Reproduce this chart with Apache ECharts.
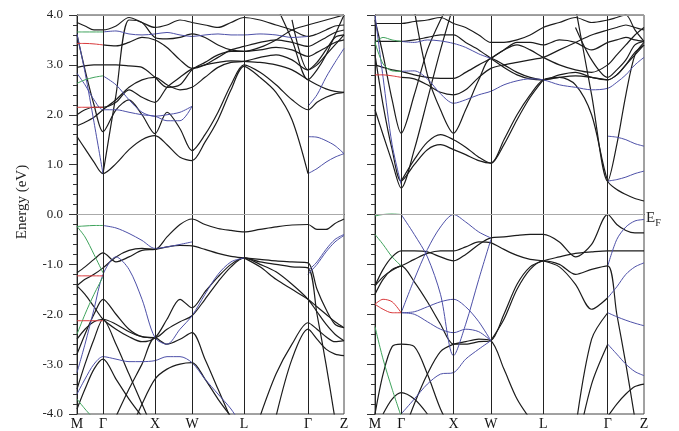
<!DOCTYPE html>
<html>
<head>
<meta charset="utf-8">
<script src="https://cdn.jsdelivr.net/npm/echarts@6/dist/echarts.min.js"></script>
<style>html,body{margin:0;padding:0;background:#fff}#c{width:679px;height:431px}</style>
</head>
<body>
<div id="c"></div>
<script>
// ---------- data ----------
const K = [0, 8, 17, 26, 39, 52, 65, 78, 90, 103, 115, 128, 141, 154, 167, 183, 199, 215, 231, 240, 249, 258, 267];
const KPOINTS = [0, 26, 78, 115, 167, 231, 267];
const KLABELS = ['M', 'Γ', 'X', 'W', 'L', 'Γ', 'Z'];
const Y_MIN = -4, Y_MAX = 4, Y_STEP = 1;

// band(start, values): values placed from k-index "start", other k-points empty
function band(start, vals) {
  const out = new Array(K.length).fill(null);
  vals.forEach((v, i) => { if (start + i < K.length) out[start + i] = v; });
  return out;
}

const leftBlack = [
  band(0, [1.56,1.32,1.05,0.82,1.02,1.3,1.5,1.58,1.4,1.15,1.08,1.45,1.9,2.5,2.97,2.75,2.45,1.9,0.82]),
  band(3, [0.82,2.4,3.9,3.85,3.55,3.52,3.55,3.62,3.55,3.4,3.3,3.27,3.35,3.5,3.7,3.8,3.85,3.9,3.95,4.0]),
  band(0, [3.6,2.9,2.2,1.66,2.1,2.3,2.0,1.62,2.05,1.72,1.28,1.6,2.05,2.6,3.0,2.85,2.6,2.3,2.1,2.25,2.35,2.42,2.45]),
  band(0, [2.0,2.1,2.15,2.15,2.25,2.5,2.35,2.25,2.55,2.75,2.92,3.0,3.05,3.08,3.07,3.05,3.0,2.9,2.7,2.6,2.52,2.47,2.45]),
  band(0, [1.78,1.85,1.95,2.1,2.3,2.55,2.7,2.75,2.6,2.5,2.55,2.75,2.95,3.05,3.07,3.15,3.2,3.1,2.9,3.0,3.2,3.4,3.6]),
  band(0, [2.95,2.98,3.0,3.0,3.0,2.98,2.95,2.75,2.55,2.6,2.9,3.05,3.2,3.27,3.27,3.3,3.35,3.3,3.17,3.25,3.35,3.45,3.5]),
  band(3, [3.4,3.38,3.45,3.55,3.5,3.35,3.1,2.93,3.0,3.15,3.3,3.37,3.45,3.5,3.45,3.37,3.45,3.55,3.65,3.7]),
  band(0, [3.85,3.78,3.7,3.7,3.78,3.95,3.85,3.75,3.8,3.9,3.85,3.8,3.75,3.85,3.95,3.9,3.8,3.7,3.57,3.62,3.7,3.78,3.8]),
  band(16, [4.2,3.5,2.7,2.9,3.2,3.6,4.0]),
  band(17, [3.9,2.9,3.05,3.3,3.55,3.6]),
  band(0, [-1.17,-1.05,-0.9,-0.77,-0.95,-0.85,-0.72,-0.7,-0.65,-0.62,-0.63,-0.7,-0.78,-0.84,-0.87,-0.9,-0.93,-0.95,-0.97,-1.5,-1.9,-2.2,-2.27]),
  band(0, [-1.43,-1.3,-1.2,-1.07,-0.85,-0.72,-0.68,-0.7,-0.45,-0.2,-0.09,-0.2,-0.28,-0.32,-0.35,-0.3,-0.25,-0.21,-0.2,-0.3,-0.3,-0.18,-0.09]),
  band(0, [-1.43,-1.6,-1.85,-2.1,-2.3,-2.45,-2.55,-2.47,-2.1,-1.7,-1.87,-1.55,-1.25,-1.0,-0.87,-1.0,-1.15,-1.4,-1.7,-1.95,-2.2,-2.4,-2.53]),
  band(0, [-2.8,-2.4,-2.0,-1.7,-2.0,-2.3,-2.45,-2.47,-2.3,-2.15,-2.03,-1.7,-1.35,-1.05,-0.87,-0.95,-1.0,-1.05,-1.07,-2.0,-3.0,-4.1]),
  band(0, [-3.9,-3.5,-3.1,-2.9,-3.3,-3.7,-4.05]),
  band(4, [-4.05,-3.5,-3.0,-2.47,-2.6,-2.5,-2.37,-2.9,-3.5,-4.1]),
  band(5, [-4.4,-3.8,-3.3,-3.1,-3.0,-2.97,-3.3,-3.7,-4.05]),
  band(15, [-4.05,-3.2,-2.6,-2.17,-2.3,-2.45,-2.55,-2.53]),
  band(16, [-4.05,-2.9,-2.3,-2.5,-2.7,-2.8,-2.83]),
  band(14, [-0.87,-1.05,-1.3,-1.5,-1.7,-1.85,-2.0,-2.15,-2.27]),
  band(0, [-2.5,-2.3,-2.15,-2.1,-2.2,-2.35,-2.45,-2.47]),
  band(0, [-3.5,-3.0,-2.5,-2.1,-2.6,-3.2,-3.8,-4.4])
];
const leftBlue = [
  band(0, [3.62,2.85,1.85,0.82]),
  band(18, [0.82,0.92,1.05,1.15,1.22]),
  band(18, [1.56,1.55,1.48,1.38,1.22]),
  band(0, [2.83,2.6,2.3,2.1,2.1,2.05,2.0,1.97,1.88,1.88,2.17]),
  band(3, [2.78,2.6,2.3,2.05,1.97,2.0,2.05,2.17]),
  band(3, [3.66,3.68,3.62,3.6,3.62,3.65,3.6,3.57,3.6,3.62,3.6,3.6,3.62,3.6,3.55,3.57]),
  band(18, [2.17,2.4,2.75,3.05,3.33]),
  band(3, [-0.22,-0.27,-0.38,-0.52,-0.68,-0.65,-0.6,-0.55]),
  band(0, [-3.17,-2.6,-1.9,-1.2,-0.85,-1.1,-1.7,-2.47,-2.6,-2.3,-2.03,-1.6,-1.2,-0.95,-0.87]),
  band(0, [-3.6,-3.3,-3.0,-2.85,-2.9,-2.95,-2.95,-2.93,-2.85,-2.85,-2.97,-3.3,-3.6,-3.9,-4.3]),
  band(18, [-1.13,-0.95,-0.7,-0.5,-0.4]),
  band(18, [-1.2,-1.0,-0.75,-0.55,-0.42])
];
const leftGreen = [
  band(0, [3.66,3.66,3.66,3.66]),
  band(0, [2.63,2.7,2.75,2.78]),
  band(0, [-0.24,-0.23,-0.22,-0.22]),
  band(0, [-0.24,-0.45,-0.8,-1.17]),
  band(0, [-2.4,-2.0,-1.6,-1.25]),
  band(0, [-3.7,-3.9,-4.1])
];
const leftRed = [
  band(0, [3.43,3.43,3.42,3.4]),
  band(0, [2.15,2.15,2.15,2.15]),
  band(0, [-1.23,-1.23,-1.23,-1.23]),
  band(0, [-2.13,-2.13,-2.13,-2.13])
];

const rightBlack = [
  band(0, [2.1,1.6,1.05,0.53,1.3,2.3,3.3,4.2]),
  band(0, [3.2,2.2,1.3,0.67,1.0,1.3,1.4,1.3,1.2,1.08,1.03,1.5,2.0,2.4,2.7,2.75,2.6,2.0,0.67,0.5,0.4,0.32,0.27]),
  band(16, [4.15,2.4,0.67,1.4,2.4,3.2,3.45]),
  band(0, [3.9,3.2,2.3,1.63,2.4,3.3,3.9,4.4]),
  band(4, [4.1,2.8,2.1,1.63,2.1,2.7,3.13,3.0,2.85,2.75,2.7,2.8,2.85,2.75,2.7,2.8,3.0,3.2,3.4]),
  band(3, [2.75,2.72,2.6,2.45,2.4,2.5,2.75,2.93,3.0,3.05,3.1,3.15,3.3,3.45,3.6,3.7,3.75,3.8,3.75,3.7]),
  band(0, [3.47,3.47,3.47,3.47,3.5,3.55,3.6,3.6,3.45,3.3,3.13,2.95,2.8,2.72,2.7,2.75,2.78,2.75,2.7,2.8,3.0,3.25,3.4]),
  band(0, [3.83,3.83,3.83,3.83,3.87,3.9,3.95,3.83,3.75,3.6,3.45,3.45,3.5,3.6,3.75,3.85,3.95,3.85,3.9,3.95,4.0,3.7,3.47]),
  band(10, [3.13,3.3,3.45,3.45,3.4,3.5,3.45,3.3,3.45,3.5,3.55,3.5,3.47]),
  band(16, [3.75,3.1,2.75,2.9,3.1,3.4,3.47]),
  band(0, [3.0,2.95,2.9,2.87,2.8,2.75,2.73,2.73,2.85,3.0,3.13,3.3,3.4,3.3,3.15,3.0,2.9,2.85,3.0,3.2,3.4,3.6,3.75]),
  band(3, [0.67,1.1,1.45,1.6,1.5,1.35,1.15,1.03,1.4,1.9,2.35,2.7]),
  band(0, [-1.43,-1.1,-0.85,-0.73,-0.73,-0.75,-0.85,-0.93,-0.8,-0.6,-0.47,-0.45,-0.42,-0.4,-0.4,-0.55,-0.85,-0.6,0.0,-0.2,-0.32,-0.37,-0.37]),
  band(0, [-1.6,-1.3,-1.1,-1.03,-0.9,-0.78,-0.73,-0.73,-0.65,-0.55,-0.57,-0.7,-0.82,-0.9,-0.93,-1.05,-1.4,-1.9,-1.67]),
  band(0, [-1.43,-1.25,-1.12,-1.03,-1.35,-1.75,-2.2,-2.6,-2.6,-2.55,-2.53,-2.0,-1.4,-1.05,-0.93,-0.85,-0.78,-0.75,-0.73,-0.73,-0.73,-0.73,-0.73]),
  band(10, [-2.53,-2.1,-1.5,-1.1,-0.93,-1.0,-1.2,-1.1,-1.03,-2.0,-3.0,-4.1]),
  band(0, [-4.0,-3.2,-2.65,-2.6,-2.65,-3.2,-3.9,-4.4]),
  band(1, [-4.0,-3.7,-3.57,-3.7,-4.0]),
  band(3, [-4.5,-3.8,-3.2,-2.75,-2.6,-2.55,-2.5,-2.53,-3.1,-3.7,-4.1]),
  band(16, [-4.3,-2.5,-1.97]),
  band(16, [-4.8,-3.4,-2.6]),
  band(18, [-4.05,-3.8,-3.6,-3.45,-3.4])
];
const rightBlue = [
  band(0, [4.0,2.75,1.4,0.6]),
  band(3, [2.87,2.88,2.72,2.42,2.23,2.3,2.4,2.47,2.6,2.68,2.72,2.7,2.6,2.55,2.5,2.53,2.65,2.8,3.0,3.15]),
  band(3, [3.47,3.45,3.5,3.48,3.43,3.35,3.22,3.13]),
  band(18, [0.67,0.7,0.75,0.82,0.87]),
  band(18, [1.57,1.55,1.5,1.42,1.37]),
  band(3, [0.0,-0.4,-0.85,-1.6,-2.83,-2.2,-1.3,-0.5]),
  band(3, [-1.97,-1.3,-0.7,-0.25,0.0,-0.15,-0.35,-0.47]),
  band(3, [-1.97,-1.95,-1.85,-1.75,-1.7,-1.85,-2.15,-2.53]),
  band(3, [-4.0,-3.7,-3.4,-3.2,-3.17,-2.9,-2.7,-2.53]),
  band(3, [-1.97,-2.0,-2.15,-2.3,-2.37,-2.3,-2.35,-2.53]),
  band(18, [-1.03,-0.5,-0.25,-0.13,-0.1]),
  band(18, [-1.67,-1.45,-1.2,-1.05,-0.97]),
  band(18, [-1.97,-2.05,-2.12,-2.18,-2.23]),
  band(18, [-2.6,-2.8,-3.0,-3.15,-3.23])
];
const rightGreen = [
  band(0, [3.45,3.02,2.88,2.87]),
  band(0, [3.45,3.55,3.5,3.47]),
  band(0, [-0.03,0.0,0.01,0.0]),
  band(0, [-0.4,-0.6,-0.85,-1.03]),
  band(0, [-2.25,-2.9,-3.5,-4.05])
];
const rightRed = [
  band(0, [2.8,2.8,2.78,2.75]),
  band(0, [-1.8,-1.7,-1.75,-1.97]),
  band(0, [-1.8,-1.9,-1.97,-1.97])
];

// ---------- chart ----------
const COLORS = { black: '#1c1c1c', blue: '#4d50a8', green: '#3fa35c', red: '#d9383a' };
const FONT = 'Liberation Serif';
const series = [];

function addBands(bands, color, gi, width) {
  bands.forEach(b => {
    series.push({
      type: 'line', xAxisIndex: gi, yAxisIndex: gi,
      data: K.map((k, i) => [k, b[i]]),
      showSymbol: false, smooth: 0.3, connectNulls: false,
      lineStyle: { color: color, width: width }, silent: true, animation: false, clip: true, z: 3
    });
  });
}
[0, 1].forEach(gi => {
  series.push({
    type: 'line', xAxisIndex: gi, yAxisIndex: gi, data: [], silent: true, animation: false, z: 4,
    markLine: {
      silent: true, symbol: 'none', label: { show: false }, animation: false,
      data: KPOINTS.slice(1, -1).map(k => ({ xAxis: k, lineStyle: { color: '#222', width: 1, type: 'solid' } }))
        .concat([
          { yAxis: 0, lineStyle: { color: '#aaa', width: 1, type: 'solid' } },
          { yAxis: Y_MAX, lineStyle: { color: '#9a9a9a', width: 1, type: 'solid' } }
        ])
    }
  });
});
addBands(leftBlack, COLORS.black, 0, 1.2);
addBands(leftBlue, COLORS.blue, 0, 1.0);
addBands(leftGreen, COLORS.green, 0, 1.0);
addBands(leftRed, COLORS.red, 0, 1.0);
addBands(rightBlack, COLORS.black, 1, 1.2);
addBands(rightBlue, COLORS.blue, 1, 1.0);
addBands(rightGreen, COLORS.green, 1, 1.0);
addBands(rightRed, COLORS.red, 1, 1.0);

function xAxisFor(gi) {
  return {
    type: 'value', gridIndex: gi, min: KPOINTS[0], max: KPOINTS[KPOINTS.length - 1],
    axisLine: { show: true, lineStyle: { color: '#222' } },
    axisTick: { show: false },
    splitLine: { show: false },
    axisLabel: {
      customValues: KPOINTS,
      formatter: v => KLABELS[KPOINTS.indexOf(v)] || '',
      fontFamily: FONT, fontSize: 14, color: '#111', margin: 3
    }
  };
}
function yAxisFor(gi) {
  return {
    type: 'value', gridIndex: gi, min: Y_MIN, max: Y_MAX, interval: Y_STEP,
    axisLine: { show: true, lineStyle: { color: '#222' } },
    axisTick: { show: true, length: 8, inside: false, lineStyle: { color: '#333' } },
    minorTick: { show: true, splitNumber: 5, length: 4, lineStyle: { color: '#333' } },
    splitLine: { show: false },
    axisLabel: {
      show: gi === 0, formatter: v => v.toFixed(1),
      fontFamily: FONT, fontSize: 13, color: '#222', margin: 14
    }
  };
}

const chart = echarts.init(document.getElementById('c'), null, { renderer: 'canvas' });
chart.setOption({
  backgroundColor: '#fff',
  animation: false,
  grid: [
    { left: 77, top: 15, width: 267, height: 400, show: true, borderColor: '#444', borderWidth: 1 },
    { left: 375, top: 15, width: 269, height: 400, show: true, borderColor: '#444', borderWidth: 1 }
  ],
  xAxis: [xAxisFor(0), xAxisFor(1)],
  yAxis: [yAxisFor(0), yAxisFor(1)],
  series: series,
  graphic: [
    { type: 'text', x: 22, y: 202, rotation: Math.PI / 2,
      style: { text: 'Energy (eV)', font: '15px "Liberation Serif"', fill: '#222', align: 'center', verticalAlign: 'middle' } },
    { type: 'text', x: 646, y: 218,
      style: { text: '{e|E}{f|F}', fill: '#222', align: 'left', verticalAlign: 'middle',
        rich: { e: { fontFamily: FONT, fontSize: 15, fill: '#222' }, f: { fontFamily: FONT, fontSize: 10, fill: '#222', padding: [10, 0, 0, 0] } } } }
  ]
});
</script>
</body>
</html>
